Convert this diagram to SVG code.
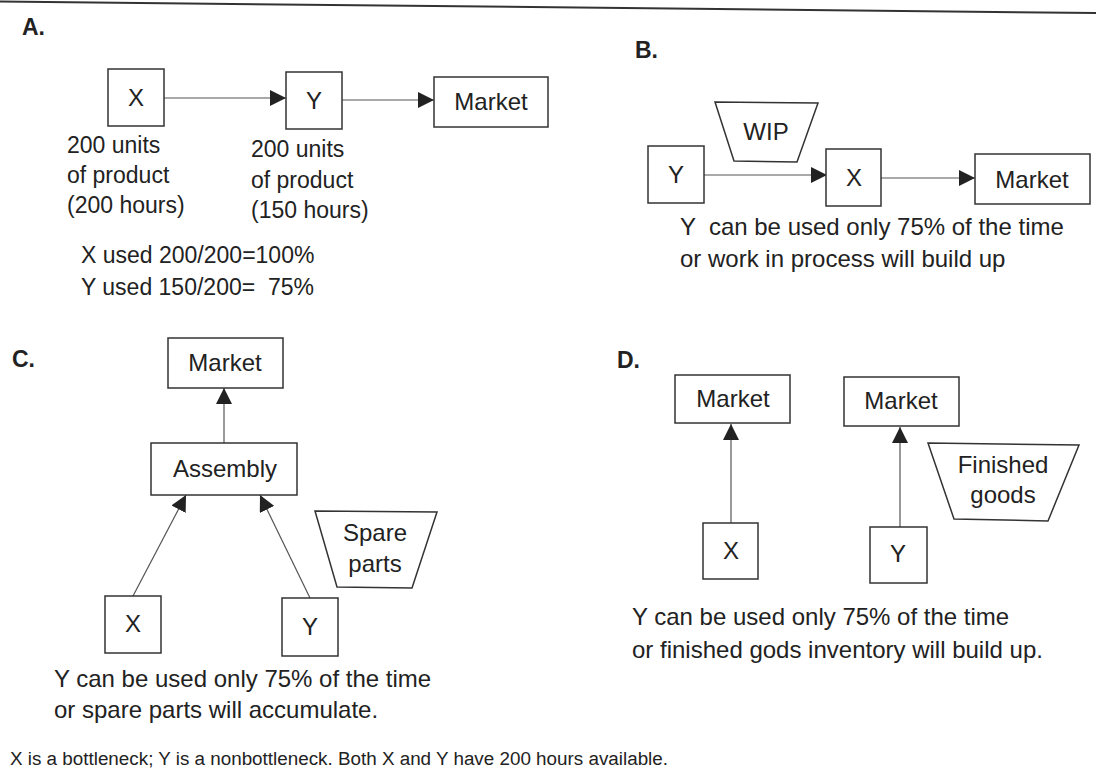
<svg xmlns="http://www.w3.org/2000/svg" width="1096" height="783" viewBox="0 0 1096 783">
<style>
text{font-family:"Liberation Sans",Arial,sans-serif;fill:#222;white-space:pre}
.lbl{font-size:24px;text-anchor:middle}
.t{font-size:23px}
.s{font-size:24px}
.h{font-size:23px;font-weight:bold}
.box{fill:#fff;stroke:#333;stroke-width:1.5}
.con{stroke:#555;stroke-width:1.2;fill:none;marker-end:url(#ah)}
</style>
<defs>
<marker id="ah" markerUnits="userSpaceOnUse" markerWidth="16" markerHeight="16" refX="16" refY="8" orient="auto">
<path d="M0,0 L16,8 L0,16 z" fill="#222"/>
</marker>
</defs>
<rect width="1096" height="783" fill="#fff"/>
<line x1="0" y1="1.5" x2="1096" y2="13" stroke="#333" stroke-width="2"/>

<!-- Section headers -->
<text class="h" x="22" y="35">A.</text>
<text class="h" x="635" y="58">B.</text>
<text class="h" x="12" y="367">C.</text>
<text class="h" x="617" y="368">D.</text>

<g id="connectors">
<line class="con" x1="164" y1="98" x2="286" y2="98"/>
<line class="con" x1="342" y1="100" x2="434" y2="100"/>
<line class="con" x1="704" y1="175" x2="827" y2="175"/>
<line class="con" x1="881" y1="178" x2="975" y2="178"/>
<line class="con" x1="224" y1="443" x2="224" y2="388"/>
<line class="con" x1="133" y1="596" x2="186" y2="495"/>
<line class="con" x1="310" y1="598" x2="260" y2="495"/>
<line class="con" x1="731" y1="523" x2="731" y2="424"/>
<line class="con" x1="900" y1="527" x2="900" y2="427"/>
</g>

<!-- A -->
<g id="A-X"><rect class="box" x="108" y="69" width="56" height="57"/><text class="lbl" x="136" y="106">X</text></g>
<g id="A-Y"><rect class="box" x="286" y="72" width="56" height="57"/><text class="lbl" x="314" y="109">Y</text></g>
<g id="A-Market"><rect class="box" x="434" y="77" width="114" height="50"/><text class="lbl" x="491" y="110">Market</text></g>
<g id="A-notes">
<text class="t" x="67" y="153">200 units</text>
<text class="t" x="67" y="183">of product</text>
<text class="t" x="67" y="213">(200 hours)</text>
<text class="t" x="251" y="157">200 units</text>
<text class="t" x="251" y="188">of product</text>
<text class="t" x="251" y="218">(150 hours)</text>
<text class="t" x="81" y="263">X used 200/200=100%</text>
<text class="t" x="81" y="295">Y used 150/200=  75%</text>
</g>

<!-- B -->
<g id="B-WIP"><polygon class="box" points="715,102 818,103 797,162 734,161"/><text class="lbl" x="766" y="140">WIP</text></g>
<g id="B-Y"><rect class="box" x="648" y="146" width="56" height="57"/><text class="lbl" x="676" y="183">Y</text></g>
<g id="B-X"><rect class="box" x="826" y="149" width="55" height="57"/><text class="lbl" x="854" y="186">X</text></g>
<g id="B-Market"><rect class="box" x="975" y="154" width="115" height="50"/><text class="lbl" x="1032" y="188">Market</text></g>
<g id="B-notes">
<text class="s" x="680" y="235">Y  can be used only 75% of the time</text>
<text class="s" x="680" y="267">or work in process will build up</text>
</g>

<!-- C -->
<g id="C-Market"><rect class="box" x="168" y="338" width="115" height="50"/><text class="lbl" x="225" y="371">Market</text></g>
<g id="C-Assembly"><rect class="box" x="151" y="443" width="146" height="52"/><text class="lbl" x="225" y="477">Assembly</text></g>
<g id="C-Spare"><polygon class="box" points="315,511 437,512 412,588 337,587"/><text class="lbl" x="375" y="541">Spare</text><text class="lbl" x="375" y="572">parts</text></g>
<g id="C-X"><rect class="box" x="105" y="596" width="56" height="57"/><text class="lbl" x="133" y="632">X</text></g>
<g id="C-Y"><rect class="box" x="282" y="598" width="56" height="58"/><text class="lbl" x="310" y="635">Y</text></g>
<g id="C-notes">
<text class="s" x="54" y="687">Y can be used only 75% of the time</text>
<text class="s" x="54" y="718">or spare parts will accumulate.</text>
</g>

<!-- D -->
<g id="D-Market1"><rect class="box" x="675" y="375" width="115" height="48"/><text class="lbl" x="733" y="407">Market</text></g>
<g id="D-Market2"><rect class="box" x="844" y="377" width="115" height="49"/><text class="lbl" x="901" y="409">Market</text></g>
<g id="D-Finished"><polygon class="box" points="928,443 1079,445 1048,521 954,519"/><text class="lbl" x="1003" y="473">Finished</text><text class="lbl" x="1003" y="503">goods</text></g>
<g id="D-X"><rect class="box" x="703" y="523" width="55" height="56"/><text class="lbl" x="731" y="559">X</text></g>
<g id="D-Y"><rect class="box" x="870" y="527" width="57" height="56"/><text class="lbl" x="898" y="562">Y</text></g>
<g id="D-notes">
<text class="s" x="632" y="625">Y can be used only 75% of the time</text>
<text class="s" x="632" y="658">or finished gods inventory will build up.</text>
</g>

<text x="10" y="765" font-size="18" textLength="658" lengthAdjust="spacingAndGlyphs">X is a bottleneck; Y is a nonbottleneck. Both X and Y have 200 hours available.</text>
</svg>
